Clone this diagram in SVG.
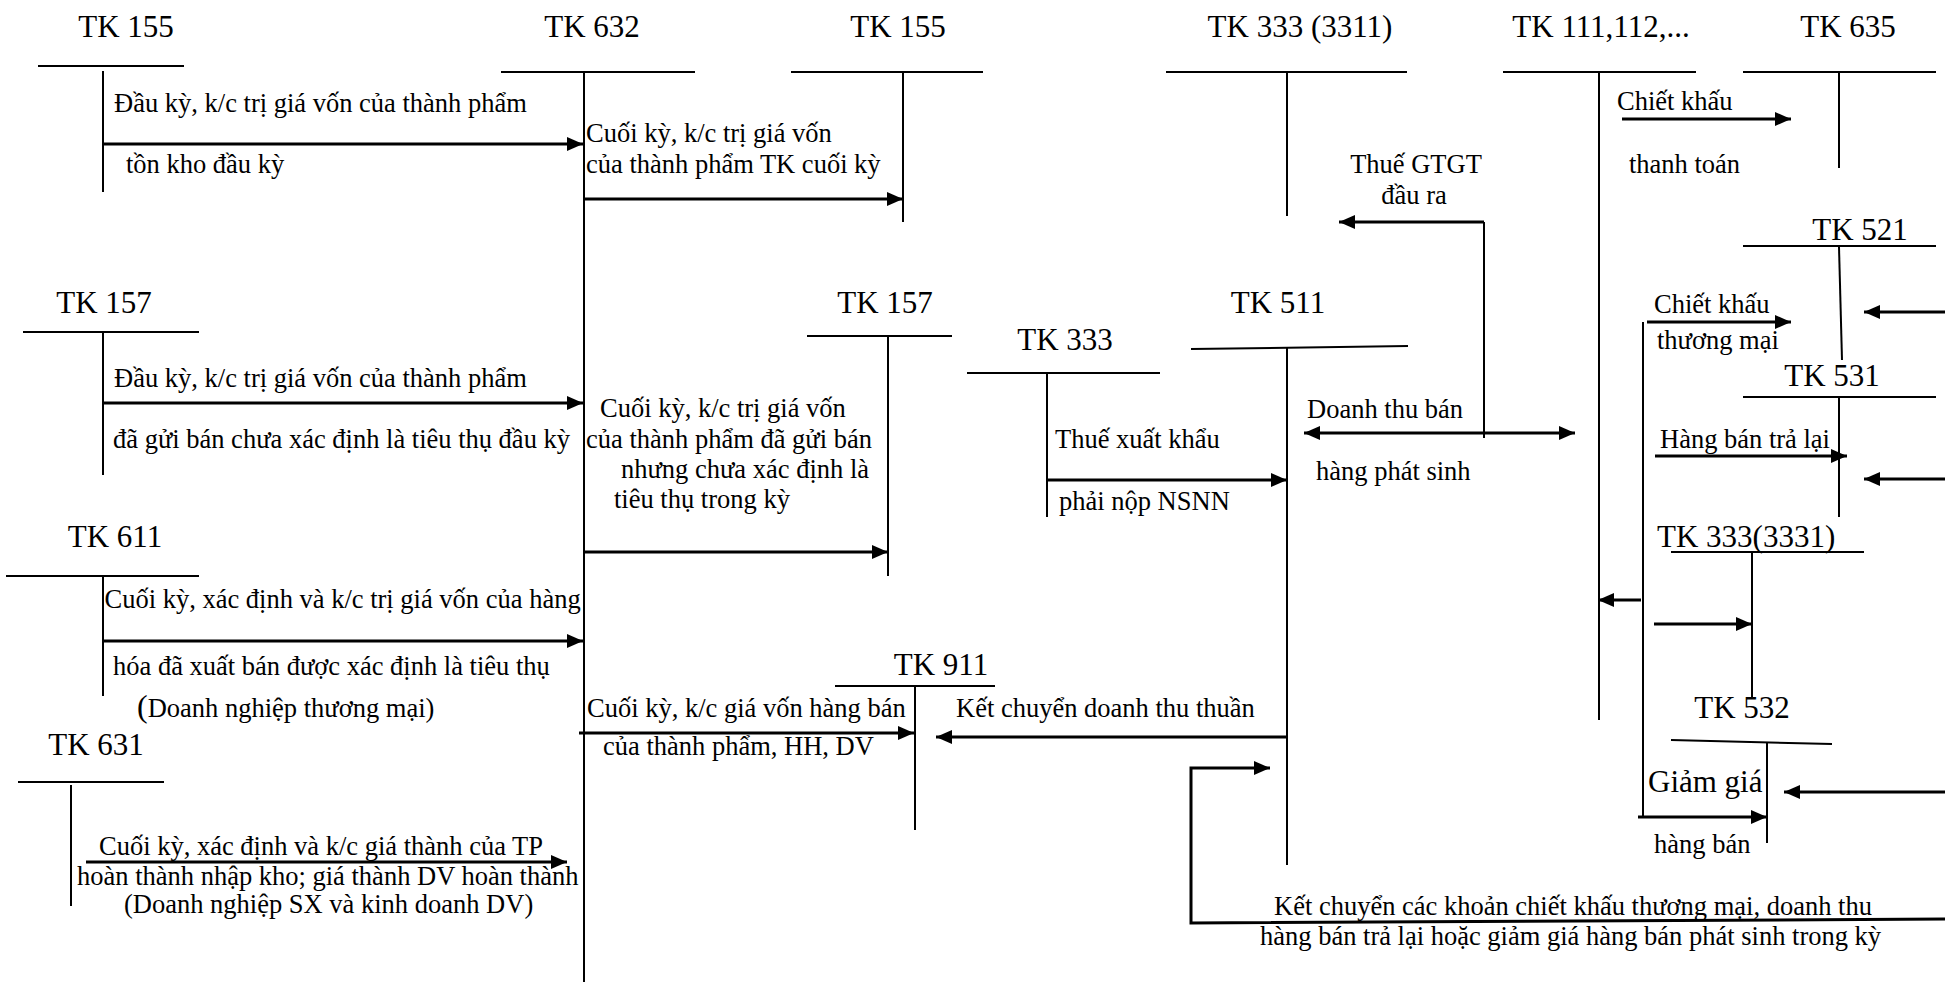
<svg xmlns="http://www.w3.org/2000/svg" width="1945" height="982" viewBox="0 0 1945 982">
<style>
.t{stroke:#000;stroke-width:2;fill:none}
.a{stroke:#000;stroke-width:3;fill:none;marker-end:url(#ah)}
.l{stroke:#000;stroke-width:3;fill:none}
.lb{font-family:"Liberation Serif","Times New Roman",serif;font-size:31px;fill:#000;text-anchor:middle}
.tx{font-family:"Liberation Serif","Times New Roman",serif;font-size:26.5px;fill:#000}
.m{text-anchor:middle}
</style>
<defs>
<marker id="ah" markerUnits="userSpaceOnUse" markerWidth="16" markerHeight="14" viewBox="0 0 16 14" refX="16" refY="7" orient="auto-start-reverse">
<path d="M0,0 L16,7 L0,14 z" fill="#000"/>
</marker>
</defs>
<rect width="1945" height="982" fill="#fff"/>

<g id="tk155L"><text class="lb" x="126" y="37">TK 155</text><line class="t" x1="38" y1="66" x2="184" y2="66"/><line class="t" x1="103" y1="71" x2="103" y2="192"/></g>
<g id="tk632"><text class="lb" x="592" y="37">TK 632</text><line class="t" x1="501" y1="72" x2="695" y2="72"/><line class="t" x1="584" y1="72" x2="584" y2="982"/></g>
<g id="tk155R"><text class="lb" x="898" y="37">TK 155</text><line class="t" x1="791" y1="72" x2="983" y2="72"/><line class="t" x1="903" y1="72" x2="903" y2="222"/></g>
<g id="tk3311"><text class="lb" x="1300" y="37">TK 333 (3311)</text><line class="t" x1="1166" y1="72" x2="1407" y2="72"/><line class="t" x1="1287" y1="72" x2="1287" y2="216"/></g>
<g id="tk111"><text class="lb" x="1601" y="37">TK 111,112,...</text><line class="t" x1="1503" y1="72" x2="1696" y2="72"/><line class="t" x1="1599" y1="72" x2="1599" y2="720"/></g>
<g id="tk635"><text class="lb" x="1848" y="37">TK 635</text><line class="t" x1="1743" y1="72" x2="1936" y2="72"/><line class="t" x1="1839" y1="72" x2="1839" y2="168"/></g>
<g id="tk521"><text class="lb" x="1860" y="240">TK 521</text><line class="t" x1="1743" y1="246" x2="1936" y2="246"/><line class="t" x1="1839" y1="247" x2="1842" y2="360"/></g>
<g id="tk531"><text class="lb" x="1832" y="386">TK 531</text><line class="t" x1="1743" y1="397" x2="1936" y2="397"/><line class="t" x1="1839" y1="397" x2="1839" y2="517"/></g>
<g id="tk3331"><text class="lb" x="1657" y="547" style="text-anchor:start">TK 333(3331)</text><line class="t" x1="1671" y1="552" x2="1864" y2="552"/><line class="t" x1="1752" y1="552" x2="1752" y2="697"/></g>
<g id="tk532"><text class="lb" x="1742" y="718">TK 532</text><line class="t" x1="1671" y1="740" x2="1832" y2="744"/><line class="t" x1="1767" y1="742" x2="1767" y2="843"/></g>
<g id="tk157L"><text class="lb" x="104" y="313">TK 157</text><line class="t" x1="23" y1="332" x2="199" y2="332"/><line class="t" x1="103" y1="332" x2="103" y2="475"/></g>
<g id="tk157R"><text class="lb" x="885" y="313">TK 157</text><line class="t" x1="807" y1="336" x2="952" y2="336"/><line class="t" x1="888" y1="336" x2="888" y2="576"/></g>
<g id="tk333"><text class="lb" x="1065" y="350">TK 333</text><line class="t" x1="967" y1="373" x2="1160" y2="373"/><line class="t" x1="1047" y1="373" x2="1047" y2="517"/></g>
<g id="tk511"><text class="lb" x="1278" y="313">TK 511</text><line class="t" x1="1191" y1="349" x2="1408" y2="346"/><line class="t" x1="1287" y1="347" x2="1287" y2="865"/></g>
<g id="tk611"><text class="lb" x="115" y="547">TK 611</text><line class="t" x1="6" y1="576" x2="199" y2="576"/><line class="t" x1="103" y1="576" x2="103" y2="696"/></g>
<g id="tk911"><text class="lb" x="941" y="675">TK 911</text><line class="t" x1="835" y1="686" x2="995" y2="686"/><line class="t" x1="915" y1="686" x2="915" y2="830"/></g>
<g id="tk631"><text class="lb" x="96" y="755">TK 631</text><line class="t" x1="18" y1="782" x2="164" y2="782"/><line class="t" x1="71" y1="785" x2="71" y2="906"/></g>

<g id="connectors">
<line class="a" x1="103" y1="144" x2="583" y2="144"/>
<line class="a" x1="584" y1="199" x2="903" y2="199"/>
<line class="a" x1="103" y1="403" x2="583" y2="403"/>
<line class="a" x1="584" y1="552" x2="888" y2="552"/>
<line class="a" x1="103" y1="641" x2="583" y2="641"/>
<line class="a" x1="86" y1="862" x2="567" y2="862"/>
<line class="a" x1="579" y1="733" x2="914" y2="733"/>
<line class="a" x1="1287" y1="737" x2="936" y2="737"/>
<line class="a" x1="1047" y1="480" x2="1287" y2="480"/>
<line class="t" x1="1484" y1="438" x2="1484" y2="222"/>
<polyline class="a" points="1484,222 1339,222"/>
<line class="a" x1="1304" y1="433" x2="1575" y2="433" style="marker-start:url(#ah)"/>
<line class="a" x1="1622" y1="119" x2="1791" y2="119"/>
<line class="t" x1="1643" y1="322" x2="1643" y2="817"/>
<line class="a" x1="1647" y1="322" x2="1791" y2="322"/>
<line class="a" x1="1655" y1="456" x2="1847" y2="456"/>
<line class="a" x1="1641" y1="600" x2="1598" y2="600"/>
<line class="a" x1="1654" y1="624" x2="1752" y2="624"/>
<line class="a" x1="1638" y1="817" x2="1767" y2="817"/>
<line class="a" x1="1945" y1="312" x2="1864" y2="312"/>
<line class="a" x1="1945" y1="479" x2="1864" y2="479"/>
<line class="a" x1="1945" y1="792" x2="1784" y2="792"/>
<polyline class="a" points="1945,919 1191,923 1191,768 1270,768"/>
</g>

<g id="labels">
<text class="tx" x="114" y="112">Đầu kỳ, k/c trị giá vốn của thành phẩm</text>
<text class="tx" x="126" y="173">tồn kho đầu kỳ</text>
<text class="tx" x="586" y="142">Cuối kỳ, k/c trị giá vốn</text>
<text class="tx" x="586" y="173">của thành phẩm TK cuối kỳ</text>
<text class="tx m" x="1416" y="173">Thuế GTGT</text>
<text class="tx m" x="1414" y="204">đầu ra</text>
<text class="tx" x="1617" y="110">Chiết khấu</text>
<text class="tx" x="1629" y="173">thanh toán</text>
<text class="tx" x="114" y="387">Đầu kỳ, k/c trị giá vốn của thành phẩm</text>
<text class="tx" x="113" y="448">đã gửi bán chưa xác định là tiêu thụ đầu kỳ</text>
<text class="tx" x="600" y="417">Cuối kỳ, k/c trị giá vốn</text>
<text class="tx" x="586" y="448">của thành phẩm đã gửi bán</text>
<text class="tx" x="621" y="478">nhưng chưa xác định là</text>
<text class="tx" x="614" y="508">tiêu thụ trong kỳ</text>
<text class="tx" x="1055" y="448">Thuế xuất khẩu</text>
<text class="tx" x="1059" y="510">phải nộp NSNN</text>
<text class="tx" x="1307" y="418">Doanh thu bán</text>
<text class="tx" x="1316" y="480">hàng phát sinh</text>
<text class="tx" x="1654" y="313">Chiết khấu</text>
<text class="tx" x="1657" y="349">thương mại</text>
<text class="tx" x="1660" y="448">Hàng bán trả lại</text>
<text class="tx" x="104.5" y="608">Cuối kỳ, xác định và k/c trị giá vốn của hàng</text>
<text class="tx" x="113" y="675">hóa đã xuất bán được xác định là tiêu thụ</text>
<text class="tx" x="137" y="717"><tspan style="font-size:32px">(</tspan>Doanh nghiệp thương mại)</text>
<text class="tx" x="587" y="717">Cuối kỳ, k/c giá vốn hàng bán</text>
<text class="tx" x="603" y="755">của thành phẩm, HH, DV</text>
<text class="tx" x="956" y="717">Kết chuyển doanh thu thuần</text>
<text class="tx" x="1648" y="792" style="font-size:31px">Giảm giá</text>
<text class="tx" x="1654" y="853">hàng bán</text>
<text class="tx" x="99" y="855">Cuối kỳ, xác định và k/c giá thành của TP</text>
<text class="tx" x="77" y="885">hoàn thành nhập kho; giá thành DV hoàn thành</text>
<text class="tx" x="124" y="913">(Doanh nghiệp SX và kinh doanh DV)</text>
<text class="tx" x="1274" y="915">Kết chuyển các khoản chiết khấu thương mại, doanh thu</text>
<text class="tx" x="1260" y="945">hàng bán trả lại hoặc giảm giá hàng bán phát sinh trong kỳ</text>
</g>
</svg>
